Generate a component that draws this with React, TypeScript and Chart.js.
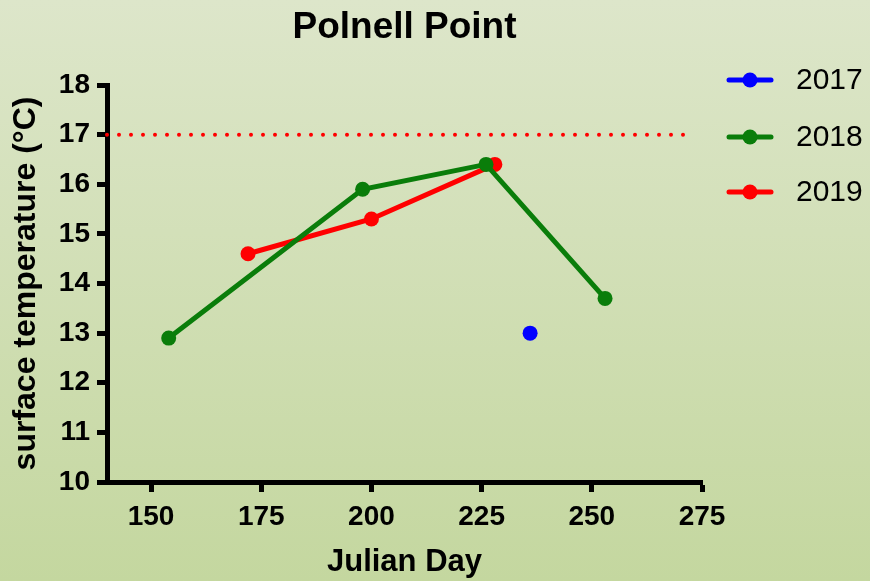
import React, { useEffect, useRef } from "react";
import { Chart, registerables } from "chart.js";

Chart.register(...registerables);

const chartTitle = "Polnell Point";
const xAxisTitle = "Julian Day";
const yAxisTitle = "surface temperature (°C)";
const xTicks = [150, 175, 200, 225, 250, 275];

const seriesNames = ["2017", "2018", "2019"];
const seriesColors = ["#0000ff", "#0a7d0a", "#ff0000"];

const days2017 = [236];
const temps2017 = [13.0];
const days2018 = [154, 198, 226, 253];
const temps2018 = [12.9, 15.9, 16.4, 13.7];
const days2019 = [172, 200, 228];
const temps2019 = [14.6, 15.3, 16.4];

const thresholdDays = [140, 272];
const thresholdValue = 17;

const FONT = "'Liberation Sans', Arial, Helvetica, sans-serif";

const toPoints = (xs: number[], ys: number[]) => xs.map((x, i) => ({ x, y: ys[i] }));

export default function App() {
  const ref = useRef<HTMLCanvasElement | null>(null);

  useEffect(() => {
    if (!ref.current) return;
    Chart.defaults.font.family = FONT;

    const titleLegendPlugin = {
      id: "titleLegend",
      afterDraw(chart: any) {
        const { ctx, chartArea } = chart;
        ctx.save();
        ctx.fillStyle = "#000";
        ctx.font = `bold 37px ${FONT}`;
        ctx.textAlign = "center";
        ctx.textBaseline = "middle";
        ctx.fillText(chartTitle, (chartArea.left + chartArea.right) / 2, 28);

        const ys = [80, 137, 192];
        seriesNames.forEach((name, i) => {
          const y = ys[i];
          ctx.strokeStyle = seriesColors[i];
          ctx.lineWidth = 5;
          ctx.lineCap = "round";
          ctx.beginPath();
          ctx.moveTo(729, y);
          ctx.lineTo(771, y);
          ctx.stroke();
          ctx.fillStyle = seriesColors[i];
          ctx.beginPath();
          ctx.arc(750, y, 7.5, 0, Math.PI * 2);
          ctx.fill();
          ctx.fillStyle = "#000";
          ctx.font = `30px ${FONT}`;
          ctx.textAlign = "left";
          ctx.textBaseline = "middle";
          ctx.fillText(name, 796, y + 1);
        });
        ctx.restore();
      },
    };

    const chart = new Chart(ref.current, {
      type: "line",
      data: {
        datasets: [
          {
            label: seriesNames[0],
            data: toPoints(days2017, temps2017),
            borderColor: seriesColors[0],
            backgroundColor: seriesColors[0],
            borderWidth: 5,
            pointRadius: 7.5,
            pointBorderWidth: 0,
          },
          {
            label: seriesNames[1],
            data: toPoints(days2018, temps2018),
            borderColor: seriesColors[1],
            backgroundColor: seriesColors[1],
            borderWidth: 5,
            pointRadius: 7.5,
            pointBorderWidth: 0,
          },
          {
            label: seriesNames[2],
            data: toPoints(days2019, temps2019),
            borderColor: seriesColors[2],
            backgroundColor: seriesColors[2],
            borderWidth: 5,
            pointRadius: 7.5,
            pointBorderWidth: 0,
          },
          {
            label: "threshold",
            data: thresholdDays.map((x) => ({ x, y: thresholdValue })),
            borderColor: "#ff0000",
            borderWidth: 4,
            borderDash: [0, 12],
            borderCapStyle: "round",
            pointRadius: 0,
          },
        ],
      },
      options: {
        responsive: false,
        animation: false,
        clip: false as any,
        layout: { padding: { top: 85, right: 168, left: 0, bottom: 0 } },
        plugins: {
          legend: { display: false },
          title: { display: false },
          tooltip: { enabled: false },
        },
        scales: {
          x: {
            type: "linear",
            min: 140,
            max: 275,
            afterBuildTicks: (scale: any) => {
              scale.ticks = xTicks.map((v) => ({ value: v }));
            },
            afterFit: (scale: any) => {
              scale.height = 99;
            },
            grid: {
              drawOnChartArea: false,
              drawTicks: true,
              tickLength: 10,
              tickWidth: 5,
              tickColor: "#000",
            },
            border: { display: true, color: "#000", width: 5 },
            ticks: {
              color: "#000",
              font: { size: 28, weight: "bold" },
              padding: 8,
              maxRotation: 0,
            },
            title: {
              display: true,
              text: xAxisTitle,
              color: "#000",
              font: { size: 31, weight: "bold" },
              padding: { top: 0, bottom: 0 },
            },
          },
          y: {
            type: "linear",
            min: 10,
            max: 18,
            afterFit: (scale: any) => {
              scale.width = 107;
            },
            grid: {
              drawOnChartArea: false,
              drawTicks: true,
              tickLength: 10,
              tickWidth: 5,
              tickColor: "#000",
            },
            border: { display: true, color: "#000", width: 5 },
            ticks: {
              stepSize: 1,
              color: "#000",
              font: { size: 28, weight: "bold" },
              padding: 7,
            },
            title: {
              display: true,
              text: yAxisTitle,
              color: "#000",
              font: { size: 32, weight: "bold" },
              padding: { top: 7, bottom: 0 },
            },
          },
        },
      },
      plugins: [titleLegendPlugin],
    } as any);

    return () => chart.destroy();
  }, []);

  return (
    <div
      style={{
        position: "fixed",
        left: 0,
        top: 0,
        width: 870,
        height: 581,
        background: "linear-gradient(to bottom, #dde6ca 0%, #c4d79f 100%)",
      }}
    >
      <canvas ref={ref} width={870} height={581} style={{ display: "block" }} />
    </div>
  );
}
